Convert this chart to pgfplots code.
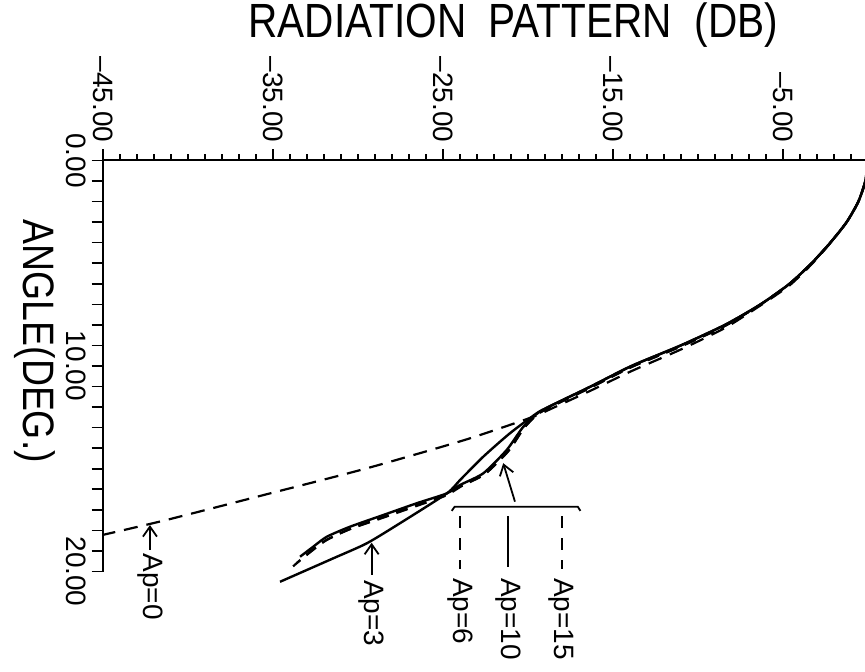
\documentclass[border=0pt]{standalone}
\usepackage{fontspec}
\setmainfont{Liberation Sans}
\newfontfamily\titlefont{Liberation Sans}[FakeStretch=0.845]
\newfontfamily\namefont{Liberation Sans}[FakeStretch=0.85]
\usepackage{pgfplots}
\usepackage{pgfplotstable}
\pgfplotsset{compat=1.18}
\usetikzlibrary{arrows.meta}

\newcommand{\lab}{\fontsize{14}{16}\selectfont}

% columns: dB, angle (deg)
\pgfplotstableread{
db ang
0 0
-0.14 1
-0.55 2
-1.24 3
-2.2 4
-3.3 5
-4.6 6
-6.3 7
-8.4 8
-11.0 9
-13.9 10
-16.3 11
-18.8 12
-19.5 12.35
-20.3 13.0
-21.24 14.09
-22.61 15.22
-23.98 15.79
-24.76 16.2
-26.53 16.68
-28.49 17.25
-30.45 17.82
-31.82 18.31
-32.61 18.79
-33.39 19.28
}\apten

\pgfplotstableread{
db ang
0 0
-0.14 1
-0.55 2
-1.24 3
-2.2 4
-3.3 5
-4.6 6
-6.3 7
-8.4 8
-11.0 9
-13.9 10
-16.3 11
-18.8 12
-19.47 12.3
-21.04 13.27
-22.61 14.41
-23.98 15.55
-24.76 16.2
-27.51 17.65
-29.47 18.63
-31.44 19.36
-34.57 20.5
}\apthree

\pgfplotstableread{
db ang
0 0
-0.14 1
-0.55 2
-1.24 3
-2.2 4
-3.3 5
-4.6 6
-6.3 7
-8.4 8.05
-11.0 9.05
-13.9 10.05
-16.3 11.05
-18.8 12.05
-19.5 12.4
-20.3 13.1
-21.2 14.2
-22.6 15.3
-24.0 15.85
-24.8 16.25
-26.5 16.75
-28.5 17.35
-30.4 17.92
-31.8 18.45
-32.7 19.0
-33.6 19.6
}\apfifteen

\pgfplotstableread{
db ang
0 0
-0.14 1
-0.55 2
-1.24 3
-2.2 4
-3.3 5
-4.6 6
-6.3 7
-8.4 8.05
-11.0 9.05
-13.9 10.05
-16.3 11.05
-18.8 12.05
-19.5 12.4
-20.2 13.0
-21.1 14.1
-22.5 15.25
-23.9 15.85
-24.8 16.3
-26.5 16.8
-28.5 17.38
-30.5 17.95
-31.9 18.5
-32.9 19.1
-33.8 19.75
}\apsix

\pgfplotstableread{
db ang
0 0
-0.14 1.0
-0.55 2.0
-1.24 3.0
-2.2 4.02
-3.3 5.05
-4.6 6.08
-6.3 7.05
-8.4 8.15
-11.0 9.2
-13.9 10.25
-16.3 11.2
-18.8 12.15
-19.67 12.47
-23.59 13.57
-29.47 14.98
-35.35 16.24
-41.24 17.49
-45.0 18.22
}\apzero

\begin{document}
\begin{tikzpicture}
\useasboundingbox (-51.35pt,-50.25pt) rectangle (381.15pt,285.75pt);
\begin{axis}[
  scale only axis, width=382.5pt, height=205.5pt,
  xmin=-45, xmax=0, ymin=0, ymax=20, y dir=reverse,
  axis x line=top, axis y line=left,
  axis line style={-, line width=1pt},
  tick align=outside,
  xtick={-45,-35,-25,-15,-5},
  xticklabels={–45.00,–35.00,–25.00,–15.00,–5.00},
  minor xtick={-44,-43,...,-1},
  ytick={0,1,...,20},
  yticklabels={,,},
  major tick length=5.5pt, minor tick length=3pt,
  tick style={black, line width=0.8pt},
  xticklabel style={rotate=-90, anchor=east, font=\lab},
  clip=false,
]
\addplot[black, line width=1.1pt, smooth, tension=0.4, dash pattern=on 7pt off 4.5pt] table[x=db,y=ang]{\apzero};
\addplot[black, line width=1.1pt, smooth, tension=0.4, dash pattern=on 6pt off 4pt] table[x=db,y=ang]{\apsix};
\addplot[black, line width=1.1pt, smooth, tension=0.4, dash pattern=on 6pt off 4pt] table[x=db,y=ang]{\apfifteen};
\addplot[black, line width=1.2pt, smooth, tension=0.4] table[x=db,y=ang]{\apthree};
\addplot[black, line width=1.2pt, smooth, tension=0.4] table[x=db,y=ang]{\apten};

% angle tick labels
\node[font=\lab, rotate=-90, anchor=north, inner sep=0pt] at ([xshift=-8pt]axis cs:-45,0) {0.00};
\node[font=\lab, rotate=-90, anchor=north, inner sep=0pt] at ([xshift=-8pt]axis cs:-45,10) {10.00};
\node[font=\lab, rotate=-90, anchor=north, inner sep=0pt] at ([xshift=-8pt]axis cs:-45,20) {20.00};

% title and axis name
\node[font=\titlefont\fontsize{24}{28}\selectfont] at (axis cs:-20.85,-6.6) {RADIATION\ \ PATTERN\ \ (DB)};
\node[font=\namefont\fontsize{22}{26}\selectfont, rotate=-90] at (axis cs:-49.0,8.8) {ANGLE(DEG.)};

% Ap=0 and Ap=3 labels
\draw[line width=0.9pt, -{Straight Barb[length=5pt,width=7pt]}] (axis cs:-42.22,18.96) -- (axis cs:-42.22,17.74);
\node[font=\lab, rotate=-90, anchor=west, inner sep=0pt] at (axis cs:-42.22,19.1) {Ap=0};
\draw[line width=0.9pt, -{Straight Barb[length=5pt,width=7pt]}] (axis cs:-29.18,20.17) -- (axis cs:-29.18,18.6);
\node[font=\lab, rotate=-90, anchor=west, inner sep=0pt] at (axis cs:-29.18,20.4) {Ap=3};

% bracket with key
\draw[line width=0.9pt] (axis cs:-24.47,17.05) -- (axis cs:-24.3,16.85) -- (axis cs:-17.05,16.85) -- (axis cs:-16.9,17.05);
\draw[line width=0.9pt, -{Straight Barb[length=5pt,width=7pt]}] (axis cs:-20.75,16.6) -- (axis cs:-21.44,14.73);
\draw[line width=0.9pt, dash pattern=on 6pt off 5pt] (axis cs:-23.96,17.3) -- (axis cs:-23.96,19.9);
\draw[line width=0.9pt] (axis cs:-21.14,17.3) -- (axis cs:-21.14,19.8);
\draw[line width=0.9pt, dash pattern=on 6pt off 5pt] (axis cs:-18.0,17.3) -- (axis cs:-18.0,19.9);
\node[font=\lab, rotate=-90, anchor=west, inner sep=0pt] at (axis cs:-23.96,20.3) {Ap=6};
\node[font=\lab, rotate=-90, anchor=west, inner sep=0pt] at (axis cs:-21.14,20.3) {Ap=10};
\node[font=\lab, rotate=-90, anchor=west, inner sep=0pt] at (axis cs:-18.0,20.3) {Ap=15};
\end{axis}
\end{tikzpicture}
\end{document}
